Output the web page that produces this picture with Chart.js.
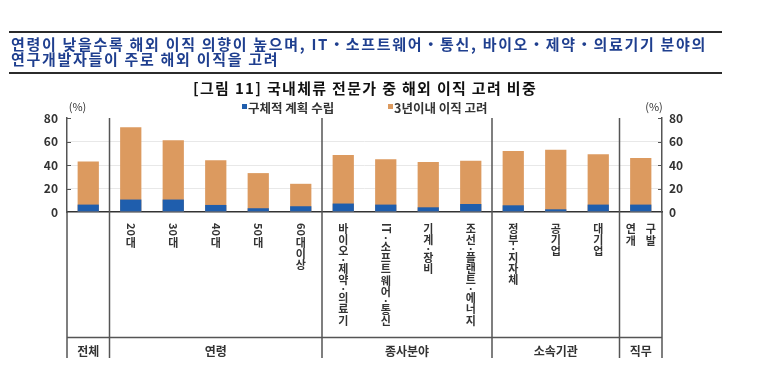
<!DOCTYPE html>
<html>
<head>
<meta charset="utf-8">
<script src="https://cdn.jsdelivr.net/npm/chart.js@4.4.1/dist/chart.umd.min.js"></script>
<style>
html,body{margin:0;padding:0;background:#fff;}
body{width:780px;height:369px;position:relative;overflow:hidden;font-family:"Noto Sans CJK KR","Noto Sans",sans-serif;}
#c{position:absolute;left:0;top:0;}
.rule{position:absolute;left:9px;width:713px;height:2px;background:#2b2b2b;}
.hl{position:absolute;white-space:nowrap;font-weight:bold;font-size:15px;line-height:15px;}
</style>
</head>
<body>
<canvas id="c" width="780" height="369"></canvas>
<div class="rule" style="top:31px"></div>
<div class="hl" id="h1" style="left:11px;top:36px;color:#1f3f8f">연령이 낮을수록 해외 이직 의향이 높으며, IT・소프트웨어・통신, 바이오・제약・의료기기 분야의</div>
<div class="hl" id="h2" style="left:11px;top:50.7px;color:#1f3f8f">연구개발자들이 주로 해외 이직을 고려</div>
<div class="rule" style="top:72px"></div>
<div class="hl" id="sub" style="top:79.5px;color:#111">[그림 11] 국내체류 전문가 중 해외 이직 고려 비중</div>
<script>
// ---- data ----
const categories     = ['전체','20대','30대','40대','50대','60대이상','바이오·제약·의료기','IT·소프트웨어·통신','기계·장비','조선·플랜트·에너지','정부·지자체','공기업','대기업','연구개발'];
const tickLabels     = ['','20대','30대','40대','50대','60대이상','바이오·제약·의료기','IT·소프트웨어·통신','기계·장비','조선·플랜트·에너지','정부·지자체','공기업','대기업',['연구','개발']];
const planValues     = [6.3, 10.6, 10.6, 6.0, 3.2, 4.9, 7.2, 6.3, 4.0, 6.8, 5.7, 2.3, 6.3, 6.3];
const considerValues = [43.0, 72.2, 61.1, 44.0, 33.1, 24.0, 48.5, 44.8, 42.5, 43.6, 51.9, 53.0, 49.1, 45.9];
const groupLabels = ['전체','연령','종사분야','소속기관','직무'];
const groupSizes  = [1, 5, 4, 3, 1];
const yTicks = [0, 20, 40, 60, 80];
const legendLabels = ['구체적 계획 수립','3년이내 이직 고려'];
const unitLabel = '(%)';

// ---- header fitting ----
function fit(el, target){
  const w = el.getBoundingClientRect().width;
  const n = el.textContent.length;
  el.style.letterSpacing = ((target - w) / n) + 'px';
}
const h1 = document.getElementById('h1'), h2 = document.getElementById('h2'), sub = document.getElementById('sub');
fit(h1, 696);
h2.style.letterSpacing = h1.style.letterSpacing;
fit(sub, 344);
sub.style.left = (365 - sub.getBoundingClientRect().width / 2) + 'px';

// ---- chart ----
const BLUE = '#1F5EAD', ORANGE = '#DC9A5F', AXIS = '#555', TXT = '#333';
const FONT = '"Noto Sans CJK KR", "Noto Sans", sans-serif';
Chart.defaults.font.family = FONT;

const overlay = {
  id: 'overlay',
  afterDraw(chart){
    const ctx = chart.ctx, xs = chart.scales.x, ys = chart.scales.y, a = chart.chartArea;
    const px = i => xs.getPixelForValue(i);
    const half = (px(1) - px(0)) / 2;
    const tableLineY = 337.5, tableBottom = 358, groupLabelY = 351;
    const line = (x1, y1, x2, y2) => { ctx.beginPath(); ctx.moveTo(x1, y1); ctx.lineTo(x2, y2); ctx.stroke(); };
    ctx.save();
    // inward tick marks
    ctx.strokeStyle = AXIS; ctx.lineWidth = 1;
    yTicks.forEach(v => {
      if (v === 0) return;
      const yy = Math.round(ys.getPixelForValue(v)) + 0.5;
      line(a.left, yy, a.left + 4, yy);
      line(a.right - 4, yy, a.right, yy);
    });
    // group dividers + table
    ctx.strokeStyle = AXIS; ctx.lineWidth = 1.5;
    let start = 0;
    const spans = [];
    groupSizes.forEach((n, g) => {
      const x0 = px(start) - half, x1 = px(start + n - 1) + half;
      spans.push([x0, x1]);
      if (g > 0) line(x0, a.top, x0, tableBottom);
      start += n;
    });
    line(a.left, a.bottom, a.left, tableBottom);
    line(a.right, a.bottom, a.right, tableBottom);
    line(a.left, tableLineY, a.right, tableLineY);
    // group labels
    ctx.fillStyle = TXT; ctx.textAlign = 'center'; ctx.textBaseline = 'middle';
    ctx.font = 'bold 12px ' + FONT;
    groupLabels.forEach((t, g) => ctx.fillText(t, (spans[g][0] + spans[g][1]) / 2, groupLabelY));
    // vertical category labels
    ctx.font = 'bold 11px ' + FONT;
    tickLabels.forEach((lab, i) => {
      const cx = px(i);
      if (Array.isArray(lab)) {
        lab.forEach((row, r) => {
          const chars = [...row];
          chars.forEach((ch, k) => ctx.fillText(ch, cx + (k - (chars.length - 1) / 2) * 20, 229 + r * 12));
        });
        return;
      }
      if (!lab) return;
      let yy = 223;
      const toks = lab.match(/[A-Za-z0-9]+|·|./gu);
      toks.forEach(t => {
        if (/^[A-Za-z0-9]+$/.test(t)) {
          const w = ctx.measureText(t).width;
          ctx.save(); ctx.translate(cx, yy + w / 2); ctx.rotate(Math.PI / 2);
          ctx.fillText(t, 0, 0); ctx.restore();
          yy += w + 1;
        } else if (t === '·') {
          ctx.fillText('·', cx, yy + 3); yy += 6.5;
        } else {
          ctx.fillText(t, cx, yy + 5.5); yy += 11.3;
        }
      });
    });
    // legend
    ctx.textAlign = 'left';
    ctx.font = 'bold 12.5px ' + FONT;
    ctx.fillStyle = BLUE; ctx.fillRect(242, 104, 5, 5);
    ctx.fillStyle = TXT; ctx.fillText(legendLabels[0], 248, 108);
    ctx.fillStyle = ORANGE; ctx.fillRect(388, 104, 5, 5);
    ctx.fillStyle = TXT; ctx.fillText(legendLabels[1], 394, 108);
    // unit labels
    ctx.font = '11px ' + FONT; ctx.textAlign = 'center';
    ctx.fillText(unitLabel, 77.5, 107);
    ctx.fillText(unitLabel, 654, 107);
    ctx.restore();
  }
};

new Chart(document.getElementById('c'), {
  type: 'bar',
  data: {
    labels: categories,
    datasets: [
      { label: legendLabels[0], data: planValues, backgroundColor: BLUE, order: 0, grouped: false, barPercentage: 0.5, categoryPercentage: 1, yAxisID: 'y' },
      { label: legendLabels[1], data: considerValues, backgroundColor: ORANGE, order: 1, grouped: false, barPercentage: 0.5, categoryPercentage: 1, yAxisID: 'y' }
    ]
  },
  options: {
    responsive: false, animation: false, devicePixelRatio: 1,
    layout: { padding: { left: 0, right: 0, top: 118, bottom: 157 } },
    plugins: { legend: { display: false }, title: { display: false }, tooltip: { enabled: false } },
    scales: {
      x: {
        grid: { display: false },
        border: { display: true, color: '#333', width: 1.5 },
        ticks: { display: false },
        afterFit(s){ s.height = 0; }
      },
      y: {
        position: 'left', min: 0, max: 80,
        afterBuildTicks(s){ s.ticks = yTicks.map(v => ({ value: v })); },
        ticks: { color: TXT, padding: 9, font: { size: 12, weight: 'bold' } },
        grid: { drawTicks: false, color: c => (c.tick && (c.tick.value === 0 || c.tick.value === 80)) ? 'rgba(0,0,0,0)' : '#e8e8e8' },
        border: { display: true, color: AXIS, width: 1.5 },
        afterFit(s){ s.width = 67; }
      },
      y2: {
        position: 'right', min: 0, max: 80,
        afterBuildTicks(s){ s.ticks = yTicks.map(v => ({ value: v })); },
        ticks: { color: TXT, padding: 7, font: { size: 12, weight: 'bold' } },
        grid: { drawOnChartArea: false, drawTicks: false },
        border: { display: true, color: AXIS, width: 1.5 },
        afterFit(s){ s.width = 118; }
      }
    }
  },
  plugins: [overlay]
});
</script>
</body>
</html>
